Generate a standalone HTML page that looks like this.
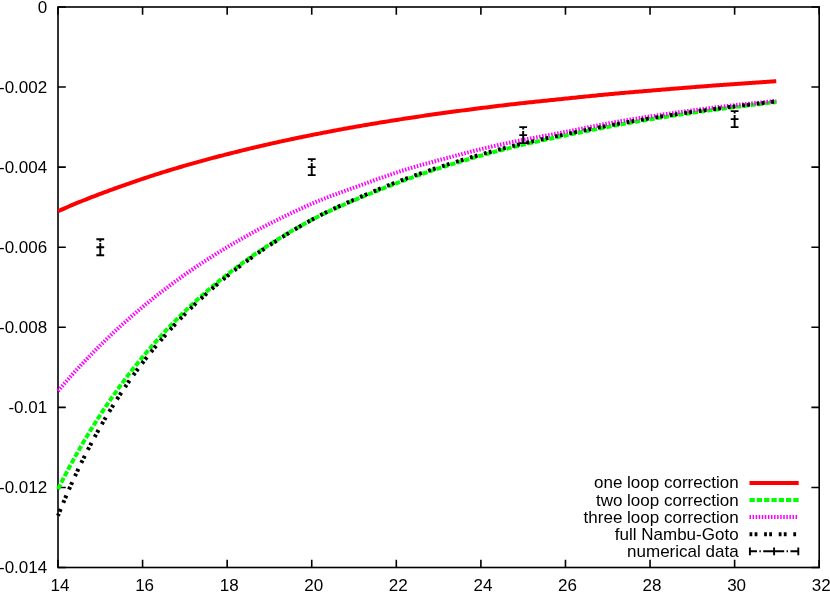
<!DOCTYPE html>
<html><head><meta charset="utf-8"><title>plot</title>
<style>
html,body{margin:0;padding:0;background:#fff;}
body{width:830px;height:592px;overflow:hidden;}
svg{display:block;will-change:transform;}
text{font-family:"Liberation Sans",sans-serif;font-size:17px;fill:#000;}
</style></head><body>
<svg width="830" height="592" viewBox="0 0 830 592">
<rect width="830" height="592" fill="#fff"/>

<g stroke="#000" stroke-width="1.6" fill="none" stroke-linecap="butt">
<rect x="58.0" y="7.0" width="761.2" height="560.5"/>
<path d="M58.00,7.00 h7.8 M819.20,7.00 h-7.8"/>
<path d="M58.00,87.07 h7.8 M819.20,87.07 h-7.8"/>
<path d="M58.00,167.14 h7.8 M819.20,167.14 h-7.8"/>
<path d="M58.00,247.21 h7.8 M819.20,247.21 h-7.8"/>
<path d="M58.00,327.29 h7.8 M819.20,327.29 h-7.8"/>
<path d="M58.00,407.36 h7.8 M819.20,407.36 h-7.8"/>
<path d="M58.00,487.43 h7.8 M819.20,487.43 h-7.8"/>
<path d="M58.00,567.50 h7.8 M819.20,567.50 h-7.8"/>
<path d="M58.00,567.50 v-7.8 M58.00,7.00 v7.8"/>
<path d="M142.58,567.50 v-7.8 M142.58,7.00 v7.8"/>
<path d="M227.16,567.50 v-7.8 M227.16,7.00 v7.8"/>
<path d="M311.73,567.50 v-7.8 M311.73,7.00 v7.8"/>
<path d="M396.31,567.50 v-7.8 M396.31,7.00 v7.8"/>
<path d="M480.89,567.50 v-7.8 M480.89,7.00 v7.8"/>
<path d="M565.47,567.50 v-7.8 M565.47,7.00 v7.8"/>
<path d="M650.04,567.50 v-7.8 M650.04,7.00 v7.8"/>
<path d="M734.62,567.50 v-7.8 M734.62,7.00 v7.8"/>
<path d="M819.20,567.50 v-7.8 M819.20,7.00 v7.8"/>
</g>
<g text-anchor="end">
<text x="47.2" y="12.5">0</text>
<text x="47.2" y="92.6">-0.002</text>
<text x="47.2" y="172.6">-0.004</text>
<text x="47.2" y="252.7">-0.006</text>
<text x="47.2" y="332.8">-0.008</text>
<text x="47.2" y="412.9">-0.01</text>
<text x="47.2" y="492.9">-0.012</text>
<text x="47.2" y="573.0">-0.014</text>
</g><g text-anchor="middle">
<text x="60.0" y="590.8">14</text>
<text x="144.6" y="590.8">16</text>
<text x="229.2" y="590.8">18</text>
<text x="313.7" y="590.8">20</text>
<text x="398.3" y="590.8">22</text>
<text x="482.9" y="590.8">24</text>
<text x="567.5" y="590.8">26</text>
<text x="652.0" y="590.8">28</text>
<text x="736.6" y="590.8">30</text>
<text x="821.2" y="590.8">32</text>
</g>
<g fill="none" stroke-width="4" stroke-linecap="butt" stroke-linejoin="round">
<path stroke="#ff0000" d="M58.00,211.30 L59.80,210.48 L61.60,209.66 L63.40,208.85 L65.20,208.06 L67.00,207.27 L68.80,206.49 L70.60,205.71 L72.40,204.95 L74.20,204.19 L76.00,203.44 L77.80,202.70 L79.60,201.96 L81.40,201.23 L83.20,200.51 L85.00,199.79 L86.80,199.08 L88.60,198.37 L90.40,197.67 L92.20,196.97 L94.00,196.28 L95.80,195.59 L97.60,194.90 L99.40,194.22 L101.20,193.55 L103.00,192.87 L104.81,192.20 L106.61,191.54 L108.41,190.87 L110.21,190.21 L112.01,189.55 L113.81,188.90 L115.61,188.25 L117.41,187.60 L119.21,186.96 L121.01,186.31 L122.81,185.67 L124.61,185.04 L126.41,184.40 L128.21,183.77 L130.01,183.15 L131.81,182.52 L133.61,181.90 L135.41,181.28 L137.21,180.67 L139.01,180.06 L140.81,179.45 L142.61,178.84 L144.41,178.24 L146.21,177.64 L148.01,177.05 L149.81,176.46 L151.61,175.88 L153.41,175.30 L155.21,174.72 L157.01,174.14 L158.81,173.57 L160.61,173.01 L162.41,172.44 L164.21,171.89 L166.01,171.33 L167.81,170.78 L169.61,170.23 L171.41,169.68 L173.21,169.14 L175.01,168.60 L176.81,168.06 L178.61,167.52 L180.41,166.99 L182.21,166.46 L184.01,165.94 L185.81,165.41 L187.61,164.89 L189.41,164.38 L191.21,163.86 L193.01,163.35 L194.81,162.84 L196.61,162.34 L198.42,161.84 L200.22,161.34 L202.02,160.85 L203.82,160.35 L205.62,159.86 L207.42,159.38 L209.22,158.90 L211.02,158.42 L212.82,157.94 L214.62,157.46 L216.42,156.99 L218.22,156.52 L220.02,156.05 L221.82,155.59 L223.62,155.12 L225.42,154.66 L227.22,154.20 L229.02,153.75 L230.82,153.29 L232.62,152.84 L234.42,152.39 L236.22,151.94 L238.02,151.49 L239.82,151.05 L241.62,150.61 L243.42,150.16 L245.22,149.73 L247.02,149.29 L248.82,148.85 L250.62,148.42 L252.42,147.99 L254.22,147.56 L256.02,147.13 L257.82,146.71 L259.62,146.29 L261.42,145.87 L263.22,145.45 L265.02,145.04 L266.82,144.62 L268.62,144.21 L270.42,143.80 L272.22,143.40 L274.02,142.99 L275.82,142.59 L277.62,142.19 L279.42,141.79 L281.22,141.40 L283.02,141.00 L284.82,140.61 L286.62,140.22 L288.42,139.84 L290.22,139.45 L292.03,139.07 L293.83,138.69 L295.63,138.31 L297.43,137.94 L299.23,137.57 L301.03,137.19 L302.83,136.83 L304.63,136.46 L306.43,136.09 L308.23,135.73 L310.03,135.37 L311.83,135.01 L313.63,134.65 L315.43,134.30 L317.23,133.94 L319.03,133.59 L320.83,133.24 L322.63,132.89 L324.43,132.54 L326.23,132.20 L328.03,131.85 L329.83,131.51 L331.63,131.17 L333.43,130.83 L335.23,130.49 L337.03,130.15 L338.83,129.82 L340.63,129.48 L342.43,129.15 L344.23,128.82 L346.03,128.49 L347.83,128.17 L349.63,127.84 L351.43,127.52 L353.23,127.20 L355.03,126.87 L356.83,126.56 L358.63,126.24 L360.43,125.92 L362.23,125.61 L364.03,125.30 L365.83,124.99 L367.63,124.68 L369.43,124.37 L371.23,124.07 L373.03,123.77 L374.83,123.46 L376.63,123.16 L378.43,122.86 L380.23,122.57 L382.03,122.27 L383.83,121.98 L385.64,121.68 L387.44,121.39 L389.24,121.10 L391.04,120.81 L392.84,120.53 L394.64,120.24 L396.44,119.96 L398.24,119.68 L400.04,119.39 L401.84,119.11 L403.64,118.84 L405.44,118.56 L407.24,118.28 L409.04,118.01 L410.84,117.74 L412.64,117.46 L414.44,117.19 L416.24,116.93 L418.04,116.66 L419.84,116.39 L421.64,116.13 L423.44,115.86 L425.24,115.60 L427.04,115.34 L428.84,115.08 L430.64,114.82 L432.44,114.56 L434.24,114.31 L436.04,114.05 L437.84,113.80 L439.64,113.55 L441.44,113.30 L443.24,113.05 L445.04,112.80 L446.84,112.56 L448.64,112.31 L450.44,112.07 L452.24,111.82 L454.04,111.58 L455.84,111.34 L457.64,111.10 L459.44,110.86 L461.24,110.62 L463.04,110.39 L464.84,110.15 L466.64,109.92 L468.44,109.68 L470.24,109.45 L472.04,109.22 L473.84,108.98 L475.64,108.75 L477.44,108.52 L479.25,108.30 L481.05,108.07 L482.85,107.84 L484.65,107.61 L486.45,107.39 L488.25,107.16 L490.05,106.94 L491.85,106.72 L493.65,106.50 L495.45,106.27 L497.25,106.06 L499.05,105.84 L500.85,105.62 L502.65,105.40 L504.45,105.19 L506.25,104.98 L508.05,104.77 L509.85,104.56 L511.65,104.35 L513.45,104.14 L515.25,103.93 L517.05,103.73 L518.85,103.53 L520.65,103.33 L522.45,103.13 L524.25,102.93 L526.05,102.74 L527.85,102.54 L529.65,102.35 L531.45,102.16 L533.25,101.97 L535.05,101.78 L536.85,101.59 L538.65,101.40 L540.45,101.21 L542.25,101.03 L544.05,100.84 L545.85,100.66 L547.65,100.47 L549.45,100.29 L551.25,100.10 L553.05,99.92 L554.85,99.73 L556.65,99.55 L558.45,99.36 L560.25,99.17 L562.05,98.99 L563.85,98.80 L565.65,98.61 L567.45,98.42 L569.25,98.24 L571.05,98.05 L572.86,97.86 L574.66,97.67 L576.46,97.49 L578.26,97.30 L580.06,97.11 L581.86,96.93 L583.66,96.74 L585.46,96.56 L587.26,96.37 L589.06,96.19 L590.86,96.01 L592.66,95.83 L594.46,95.65 L596.26,95.47 L598.06,95.29 L599.86,95.11 L601.66,94.94 L603.46,94.77 L605.26,94.59 L607.06,94.42 L608.86,94.26 L610.66,94.09 L612.46,93.92 L614.26,93.76 L616.06,93.59 L617.86,93.43 L619.66,93.27 L621.46,93.11 L623.26,92.95 L625.06,92.79 L626.86,92.63 L628.66,92.47 L630.46,92.32 L632.26,92.16 L634.06,92.01 L635.86,91.85 L637.66,91.70 L639.46,91.55 L641.26,91.39 L643.06,91.24 L644.86,91.09 L646.66,90.94 L648.46,90.79 L650.26,90.64 L652.06,90.49 L653.86,90.34 L655.66,90.19 L657.46,90.04 L659.26,89.89 L661.06,89.74 L662.86,89.59 L664.66,89.44 L666.47,89.30 L668.27,89.15 L670.07,89.00 L671.87,88.86 L673.67,88.71 L675.47,88.57 L677.27,88.42 L679.07,88.28 L680.87,88.13 L682.67,87.99 L684.47,87.84 L686.27,87.70 L688.07,87.55 L689.87,87.41 L691.67,87.27 L693.47,87.13 L695.27,86.98 L697.07,86.84 L698.87,86.70 L700.67,86.56 L702.47,86.42 L704.27,86.28 L706.07,86.15 L707.87,86.01 L709.67,85.87 L711.47,85.73 L713.27,85.60 L715.07,85.46 L716.87,85.33 L718.67,85.20 L720.47,85.07 L722.27,84.93 L724.07,84.80 L725.87,84.67 L727.67,84.55 L729.47,84.42 L731.27,84.29 L733.07,84.16 L734.87,84.04 L736.67,83.91 L738.47,83.79 L740.27,83.66 L742.07,83.54 L743.87,83.42 L745.67,83.29 L747.47,83.17 L749.27,83.05 L751.07,82.93 L752.87,82.81 L754.67,82.69 L756.47,82.56 L758.27,82.44 L760.08,82.32 L761.88,82.20 L763.68,82.08 L765.48,81.97 L767.28,81.85 L769.08,81.73 L770.88,81.61 L772.68,81.49 L774.48,81.37 L776.28,81.25"/>
<path stroke="#00ff00" stroke-dasharray="5.3 2" d="M58.00,489.10 L59.80,485.53 L61.60,482.01 L63.40,478.52 L65.20,475.07 L67.00,471.65 L68.80,468.28 L70.60,464.94 L72.40,461.64 L74.20,458.38 L76.00,455.15 L77.80,451.95 L79.60,448.79 L81.40,445.67 L83.20,442.58 L85.00,439.52 L86.80,436.50 L88.60,433.51 L90.40,430.55 L92.20,427.62 L94.00,424.72 L95.80,421.86 L97.60,419.03 L99.40,416.22 L101.20,413.45 L103.00,410.70 L104.81,407.98 L106.61,405.30 L108.41,402.64 L110.21,400.01 L112.01,397.40 L113.81,394.83 L115.61,392.28 L117.41,389.75 L119.21,387.26 L121.01,384.79 L122.81,382.34 L124.61,379.92 L126.41,377.53 L128.21,375.16 L130.01,372.82 L131.81,370.50 L133.61,368.20 L135.41,365.93 L137.21,363.67 L139.01,361.45 L140.81,359.24 L142.61,357.05 L144.41,354.89 L146.21,352.75 L148.01,350.62 L149.81,348.52 L151.61,346.44 L153.41,344.37 L155.21,342.33 L157.01,340.30 L158.81,338.30 L160.61,336.31 L162.41,334.34 L164.21,332.39 L166.01,330.46 L167.81,328.55 L169.61,326.66 L171.41,324.78 L173.21,322.93 L175.01,321.09 L176.81,319.27 L178.61,317.46 L180.41,315.68 L182.21,313.91 L184.01,312.16 L185.81,310.42 L187.61,308.70 L189.41,307.00 L191.21,305.31 L193.01,303.64 L194.81,301.99 L196.61,300.35 L198.42,298.72 L200.22,297.11 L202.02,295.51 L203.82,293.93 L205.62,292.36 L207.42,290.80 L209.22,289.26 L211.02,287.73 L212.82,286.22 L214.62,284.72 L216.42,283.23 L218.22,281.75 L220.02,280.29 L221.82,278.84 L223.62,277.40 L225.42,275.98 L227.22,274.56 L229.02,273.16 L230.82,271.77 L232.62,270.39 L234.42,269.02 L236.22,267.67 L238.02,266.32 L239.82,264.99 L241.62,263.67 L243.42,262.36 L245.22,261.06 L247.02,259.77 L248.82,258.49 L250.62,257.23 L252.42,255.97 L254.22,254.73 L256.02,253.49 L257.82,252.27 L259.62,251.05 L261.42,249.85 L263.22,248.66 L265.02,247.48 L266.82,246.30 L268.62,245.14 L270.42,243.99 L272.22,242.84 L274.02,241.71 L275.82,240.58 L277.62,239.46 L279.42,238.35 L281.22,237.25 L283.02,236.16 L284.82,235.08 L286.62,234.00 L288.42,232.93 L290.22,231.87 L292.03,230.81 L293.83,229.77 L295.63,228.73 L297.43,227.70 L299.23,226.67 L301.03,225.66 L302.83,224.65 L304.63,223.66 L306.43,222.67 L308.23,221.70 L310.03,220.74 L311.83,219.78 L313.63,218.84 L315.43,217.91 L317.23,216.99 L319.03,216.08 L320.83,215.19 L322.63,214.31 L324.43,213.44 L326.23,212.58 L328.03,211.73 L329.83,210.90 L331.63,210.07 L333.43,209.25 L335.23,208.44 L337.03,207.64 L338.83,206.85 L340.63,206.06 L342.43,205.28 L344.23,204.51 L346.03,203.74 L347.83,202.98 L349.63,202.22 L351.43,201.46 L353.23,200.71 L355.03,199.96 L356.83,199.21 L358.63,198.47 L360.43,197.72 L362.23,196.98 L364.03,196.23 L365.83,195.49 L367.63,194.75 L369.43,194.01 L371.23,193.27 L373.03,192.54 L374.83,191.81 L376.63,191.07 L378.43,190.35 L380.23,189.62 L382.03,188.90 L383.83,188.18 L385.64,187.46 L387.44,186.75 L389.24,186.04 L391.04,185.34 L392.84,184.64 L394.64,183.94 L396.44,183.25 L398.24,182.57 L400.04,181.89 L401.84,181.21 L403.64,180.54 L405.44,179.88 L407.24,179.22 L409.04,178.56 L410.84,177.91 L412.64,177.27 L414.44,176.63 L416.24,175.99 L418.04,175.36 L419.84,174.74 L421.64,174.11 L423.44,173.50 L425.24,172.88 L427.04,172.27 L428.84,171.67 L430.64,171.07 L432.44,170.47 L434.24,169.88 L436.04,169.29 L437.84,168.70 L439.64,168.12 L441.44,167.54 L443.24,166.96 L445.04,166.39 L446.84,165.82 L448.64,165.25 L450.44,164.69 L452.24,164.13 L454.04,163.57 L455.84,163.02 L457.64,162.47 L459.44,161.92 L461.24,161.38 L463.04,160.84 L464.84,160.30 L466.64,159.77 L468.44,159.24 L470.24,158.71 L472.04,158.18 L473.84,157.66 L475.64,157.14 L477.44,156.63 L479.25,156.11 L481.05,155.60 L482.85,155.10 L484.65,154.59 L486.45,154.09 L488.25,153.59 L490.05,153.10 L491.85,152.61 L493.65,152.12 L495.45,151.64 L497.25,151.15 L499.05,150.68 L500.85,150.20 L502.65,149.73 L504.45,149.27 L506.25,148.80 L508.05,148.34 L509.85,147.89 L511.65,147.44 L513.45,146.99 L515.25,146.55 L517.05,146.11 L518.85,145.68 L520.65,145.25 L522.45,144.82 L524.25,144.40 L526.05,143.98 L527.85,143.57 L529.65,143.16 L531.45,142.75 L533.25,142.35 L535.05,141.94 L536.85,141.55 L538.65,141.15 L540.45,140.76 L542.25,140.37 L544.05,139.98 L545.85,139.59 L547.65,139.21 L549.45,138.82 L551.25,138.44 L553.05,138.06 L554.85,137.68 L556.65,137.30 L558.45,136.92 L560.25,136.55 L562.05,136.17 L563.85,135.79 L565.65,135.42 L567.45,135.04 L569.25,134.66 L571.05,134.29 L572.86,133.91 L574.66,133.54 L576.46,133.17 L578.26,132.79 L580.06,132.42 L581.86,132.05 L583.66,131.69 L585.46,131.32 L587.26,130.95 L589.06,130.59 L590.86,130.22 L592.66,129.86 L594.46,129.50 L596.26,129.14 L598.06,128.78 L599.86,128.43 L601.66,128.07 L603.46,127.72 L605.26,127.37 L607.06,127.02 L608.86,126.68 L610.66,126.33 L612.46,125.99 L614.26,125.65 L616.06,125.31 L617.86,124.97 L619.66,124.64 L621.46,124.31 L623.26,123.98 L625.06,123.65 L626.86,123.32 L628.66,123.00 L630.46,122.67 L632.26,122.35 L634.06,122.03 L635.86,121.72 L637.66,121.40 L639.46,121.09 L641.26,120.78 L643.06,120.48 L644.86,120.17 L646.66,119.87 L648.46,119.57 L650.26,119.27 L652.06,118.97 L653.86,118.68 L655.66,118.38 L657.46,118.09 L659.26,117.80 L661.06,117.51 L662.86,117.23 L664.66,116.95 L666.47,116.66 L668.27,116.38 L670.07,116.11 L671.87,115.83 L673.67,115.55 L675.47,115.28 L677.27,115.01 L679.07,114.74 L680.87,114.47 L682.67,114.20 L684.47,113.94 L686.27,113.68 L688.07,113.41 L689.87,113.15 L691.67,112.89 L693.47,112.63 L695.27,112.38 L697.07,112.12 L698.87,111.87 L700.67,111.62 L702.47,111.37 L704.27,111.12 L706.07,110.87 L707.87,110.62 L709.67,110.38 L711.47,110.14 L713.27,109.89 L715.07,109.65 L716.87,109.41 L718.67,109.18 L720.47,108.94 L722.27,108.70 L724.07,108.47 L725.87,108.23 L727.67,108.00 L729.47,107.77 L731.27,107.54 L733.07,107.31 L734.87,107.09 L736.67,106.86 L738.47,106.63 L740.27,106.41 L742.07,106.18 L743.87,105.96 L745.67,105.73 L747.47,105.51 L749.27,105.29 L751.07,105.07 L752.87,104.85 L754.67,104.63 L756.47,104.41 L758.27,104.18 L760.08,103.97 L761.88,103.75 L763.68,103.53 L765.48,103.31 L767.28,103.09 L769.08,102.87 L770.88,102.65 L772.68,102.43 L774.48,102.21 L776.28,101.99"/>
<path stroke="#ff00ff" stroke-dasharray="1.5 1.57" d="M58.00,391.00 L59.80,388.88 L61.60,386.77 L63.40,384.69 L65.20,382.62 L67.00,380.56 L68.80,378.52 L70.60,376.50 L72.40,374.50 L74.20,372.51 L76.00,370.53 L77.80,368.57 L79.60,366.63 L81.40,364.70 L83.20,362.78 L85.00,360.88 L86.80,359.00 L88.60,357.13 L90.40,355.27 L92.20,353.43 L94.00,351.60 L95.80,349.78 L97.60,347.98 L99.40,346.19 L101.20,344.41 L103.00,342.65 L104.81,340.90 L106.61,339.16 L108.41,337.43 L110.21,335.72 L112.01,334.01 L113.81,332.33 L115.61,330.65 L117.41,328.98 L119.21,327.33 L121.01,325.69 L122.81,324.07 L124.61,322.45 L126.41,320.85 L128.21,319.26 L130.01,317.68 L131.81,316.11 L133.61,314.56 L135.41,313.01 L137.21,311.48 L139.01,309.96 L140.81,308.45 L142.61,306.95 L144.41,305.46 L146.21,303.98 L148.01,302.51 L149.81,301.05 L151.61,299.61 L153.41,298.17 L155.21,296.74 L157.01,295.32 L158.81,293.92 L160.61,292.52 L162.41,291.13 L164.21,289.75 L166.01,288.39 L167.81,287.03 L169.61,285.68 L171.41,284.34 L173.21,283.01 L175.01,281.69 L176.81,280.38 L178.61,279.08 L180.41,277.79 L182.21,276.50 L184.01,275.23 L185.81,273.96 L187.61,272.71 L189.41,271.46 L191.21,270.22 L193.01,268.99 L194.81,267.77 L196.61,266.56 L198.42,265.35 L200.22,264.16 L202.02,262.97 L203.82,261.79 L205.62,260.62 L207.42,259.45 L209.22,258.30 L211.02,257.15 L212.82,256.01 L214.62,254.88 L216.42,253.75 L218.22,252.63 L220.02,251.52 L221.82,250.42 L223.62,249.33 L225.42,248.24 L227.22,247.16 L229.02,246.08 L230.82,245.02 L232.62,243.96 L234.42,242.90 L236.22,241.86 L238.02,240.82 L239.82,239.79 L241.62,238.76 L243.42,237.75 L245.22,236.74 L247.02,235.73 L248.82,234.73 L250.62,233.75 L252.42,232.76 L254.22,231.79 L256.02,230.82 L257.82,229.86 L259.62,228.90 L261.42,227.95 L263.22,227.01 L265.02,226.08 L266.82,225.15 L268.62,224.22 L270.42,223.31 L272.22,222.40 L274.02,221.49 L275.82,220.60 L277.62,219.70 L279.42,218.81 L281.22,217.93 L283.02,217.06 L284.82,216.18 L286.62,215.31 L288.42,214.45 L290.22,213.59 L292.03,212.74 L293.83,211.89 L295.63,211.04 L297.43,210.21 L299.23,209.37 L301.03,208.55 L302.83,207.72 L304.63,206.91 L306.43,206.11 L308.23,205.31 L310.03,204.52 L311.83,203.73 L313.63,202.96 L315.43,202.20 L317.23,201.44 L319.03,200.70 L320.83,199.96 L322.63,199.24 L324.43,198.52 L326.23,197.82 L328.03,197.12 L329.83,196.43 L331.63,195.75 L333.43,195.08 L335.23,194.41 L337.03,193.74 L338.83,193.08 L340.63,192.43 L342.43,191.78 L344.23,191.13 L346.03,190.49 L347.83,189.84 L349.63,189.20 L351.43,188.56 L353.23,187.92 L355.03,187.28 L356.83,186.63 L358.63,185.99 L360.43,185.34 L362.23,184.70 L364.03,184.05 L365.83,183.39 L367.63,182.74 L369.43,182.09 L371.23,181.43 L373.03,180.78 L374.83,180.13 L376.63,179.48 L378.43,178.83 L380.23,178.18 L382.03,177.54 L383.83,176.90 L385.64,176.27 L387.44,175.63 L389.24,175.01 L391.04,174.39 L392.84,173.77 L394.64,173.17 L396.44,172.57 L398.24,171.97 L400.04,171.39 L401.84,170.81 L403.64,170.24 L405.44,169.68 L407.24,169.13 L409.04,168.58 L410.84,168.04 L412.64,167.51 L414.44,166.98 L416.24,166.46 L418.04,165.95 L419.84,165.43 L421.64,164.93 L423.44,164.42 L425.24,163.92 L427.04,163.42 L428.84,162.93 L430.64,162.44 L432.44,161.95 L434.24,161.46 L436.04,160.97 L437.84,160.48 L439.64,160.00 L441.44,159.51 L443.24,159.02 L445.04,158.54 L446.84,158.05 L448.64,157.57 L450.44,157.08 L452.24,156.60 L454.04,156.12 L455.84,155.64 L457.64,155.16 L459.44,154.68 L461.24,154.21 L463.04,153.73 L464.84,153.26 L466.64,152.79 L468.44,152.32 L470.24,151.86 L472.04,151.40 L473.84,150.94 L475.64,150.49 L477.44,150.03 L479.25,149.59 L481.05,149.14 L482.85,148.70 L484.65,148.27 L486.45,147.83 L488.25,147.41 L490.05,146.98 L491.85,146.56 L493.65,146.14 L495.45,145.73 L497.25,145.32 L499.05,144.92 L500.85,144.52 L502.65,144.12 L504.45,143.73 L506.25,143.34 L508.05,142.95 L509.85,142.57 L511.65,142.19 L513.45,141.82 L515.25,141.45 L517.05,141.09 L518.85,140.73 L520.65,140.37 L522.45,140.02 L524.25,139.67 L526.05,139.33 L527.85,138.98 L529.65,138.64 L531.45,138.31 L533.25,137.97 L535.05,137.64 L536.85,137.31 L538.65,136.97 L540.45,136.64 L542.25,136.31 L544.05,135.98 L545.85,135.65 L547.65,135.32 L549.45,134.99 L551.25,134.65 L553.05,134.32 L554.85,133.98 L556.65,133.64 L558.45,133.30 L560.25,132.95 L562.05,132.60 L563.85,132.25 L565.65,131.89 L567.45,131.54 L569.25,131.18 L571.05,130.82 L572.86,130.45 L574.66,130.09 L576.46,129.72 L578.26,129.36 L580.06,128.99 L581.86,128.62 L583.66,128.26 L585.46,127.89 L587.26,127.53 L589.06,127.17 L590.86,126.80 L592.66,126.44 L594.46,126.09 L596.26,125.73 L598.06,125.38 L599.86,125.03 L601.66,124.68 L603.46,124.34 L605.26,124.00 L607.06,123.66 L608.86,123.33 L610.66,123.00 L612.46,122.67 L614.26,122.34 L616.06,122.02 L617.86,121.70 L619.66,121.39 L621.46,121.07 L623.26,120.76 L625.06,120.46 L626.86,120.15 L628.66,119.85 L630.46,119.55 L632.26,119.25 L634.06,118.96 L635.86,118.66 L637.66,118.37 L639.46,118.09 L641.26,117.80 L643.06,117.52 L644.86,117.24 L646.66,116.96 L648.46,116.68 L650.26,116.40 L652.06,116.13 L653.86,115.86 L655.66,115.59 L657.46,115.32 L659.26,115.06 L661.06,114.79 L662.86,114.53 L664.66,114.27 L666.47,114.01 L668.27,113.75 L670.07,113.50 L671.87,113.24 L673.67,112.99 L675.47,112.73 L677.27,112.48 L679.07,112.23 L680.87,111.98 L682.67,111.73 L684.47,111.48 L686.27,111.24 L688.07,110.99 L689.87,110.75 L691.67,110.50 L693.47,110.26 L695.27,110.02 L697.07,109.78 L698.87,109.55 L700.67,109.31 L702.47,109.08 L704.27,108.84 L706.07,108.61 L707.87,108.39 L709.67,108.16 L711.47,107.93 L713.27,107.71 L715.07,107.49 L716.87,107.27 L718.67,107.06 L720.47,106.84 L722.27,106.63 L724.07,106.42 L725.87,106.22 L727.67,106.01 L729.47,105.81 L731.27,105.61 L733.07,105.41 L734.87,105.21 L736.67,105.02 L738.47,104.82 L740.27,104.63 L742.07,104.43 L743.87,104.24 L745.67,104.05 L747.47,103.86 L749.27,103.68 L751.07,103.49 L752.87,103.30 L754.67,103.11 L756.47,102.93 L758.27,102.74 L760.08,102.56 L761.88,102.37 L763.68,102.18 L765.48,102.00 L767.28,101.81 L769.08,101.63 L770.88,101.44 L772.68,101.25 L774.48,101.06 L776.28,100.88"/>
<path stroke="#000" stroke-dasharray="2.8 2.3 2.8 6.7" stroke-dashoffset="0.7" d="M58.00,515.72 L59.80,511.24 L61.60,506.84 L63.40,502.50 L65.20,498.23 L67.00,494.04 L68.80,489.91 L70.60,485.84 L72.40,481.83 L74.20,477.89 L76.00,474.01 L77.80,470.19 L79.60,466.42 L81.40,462.72 L83.20,459.06 L85.00,455.46 L86.80,451.91 L88.60,448.42 L90.40,444.97 L92.20,441.58 L94.00,438.23 L95.80,434.93 L97.60,431.67 L99.40,428.46 L101.20,425.29 L103.00,422.17 L104.81,419.08 L106.61,416.04 L108.41,413.04 L110.21,410.08 L112.01,407.16 L113.81,404.28 L115.61,401.43 L117.41,398.62 L119.21,395.85 L121.01,393.11 L122.81,390.41 L124.61,387.74 L126.41,385.10 L128.21,382.50 L130.01,379.93 L131.81,377.39 L133.61,374.88 L135.41,372.41 L137.21,369.96 L139.01,367.54 L140.81,365.15 L142.61,362.78 L144.41,360.45 L146.21,358.14 L148.01,355.85 L149.81,353.59 L151.61,351.36 L153.41,349.15 L155.21,346.96 L157.01,344.80 L158.81,342.66 L160.61,340.55 L162.41,338.46 L164.21,336.39 L166.01,334.34 L167.81,332.31 L169.61,330.31 L171.41,328.33 L173.21,326.37 L175.01,324.43 L176.81,322.52 L178.61,320.62 L180.41,318.74 L182.21,316.89 L184.01,315.05 L185.81,313.23 L187.61,311.43 L189.41,309.66 L191.21,307.89 L193.01,306.15 L194.81,304.42 L196.61,302.71 L198.42,301.02 L200.22,299.35 L202.02,297.69 L203.82,296.04 L205.62,294.42 L207.42,292.81 L209.22,291.21 L211.02,289.63 L212.82,288.06 L214.62,286.51 L216.42,284.97 L218.22,283.45 L220.02,281.94 L221.82,280.44 L223.62,278.96 L225.42,277.49 L227.22,276.04 L229.02,274.60 L230.82,273.17 L232.62,271.75 L234.42,270.35 L236.22,268.96 L238.02,267.58 L239.82,266.21 L241.62,264.86 L243.42,263.52 L245.22,262.19 L247.02,260.87 L248.82,259.56 L250.62,258.27 L252.42,256.98 L254.22,255.71 L256.02,254.45 L257.82,253.19 L259.62,251.95 L261.42,250.72 L263.22,249.49 L265.02,248.28 L266.82,247.08 L268.62,245.88 L270.42,244.70 L272.22,243.52 L274.02,242.36 L275.82,241.20 L277.62,240.05 L279.42,238.91 L281.22,237.77 L283.02,236.65 L284.82,235.53 L286.62,234.42 L288.42,233.32 L290.22,232.23 L292.03,231.14 L293.83,230.06 L295.63,228.99 L297.43,227.92 L299.23,226.87 L301.03,225.82 L302.83,224.78 L304.63,223.76 L306.43,222.74 L308.23,221.73 L310.03,220.73 L311.83,219.75 L313.63,218.77 L315.43,217.81 L317.23,216.86 L319.03,215.92 L320.83,215.00 L322.63,214.09 L324.43,213.18 L326.23,212.30 L328.03,211.42 L329.83,210.55 L331.63,209.69 L333.43,208.85 L335.23,208.01 L337.03,207.18 L338.83,206.36 L340.63,205.54 L342.43,204.74 L344.23,203.94 L346.03,203.14 L347.83,202.35 L349.63,201.57 L351.43,200.79 L353.23,200.01 L355.03,199.24 L356.83,198.46 L358.63,197.70 L360.43,196.93 L362.23,196.16 L364.03,195.40 L365.83,194.64 L367.63,193.88 L369.43,193.12 L371.23,192.37 L373.03,191.62 L374.83,190.87 L376.63,190.12 L378.43,189.38 L380.23,188.64 L382.03,187.90 L383.83,187.17 L385.64,186.45 L387.44,185.73 L389.24,185.01 L391.04,184.30 L392.84,183.59 L394.64,182.89 L396.44,182.20 L398.24,181.51 L400.04,180.83 L401.84,180.15 L403.64,179.48 L405.44,178.81 L407.24,178.15 L409.04,177.49 L410.84,176.84 L412.64,176.19 L414.44,175.55 L416.24,174.91 L418.04,174.27 L419.84,173.65 L421.64,173.02 L423.44,172.40 L425.24,171.79 L427.04,171.17 L428.84,170.57 L430.64,169.96 L432.44,169.36 L434.24,168.77 L436.04,168.18 L437.84,167.59 L439.64,167.00 L441.44,166.42 L443.24,165.84 L445.04,165.27 L446.84,164.70 L448.64,164.13 L450.44,163.57 L452.24,163.00 L454.04,162.45 L455.84,161.89 L457.64,161.34 L459.44,160.79 L461.24,160.25 L463.04,159.71 L464.84,159.17 L466.64,158.63 L468.44,158.10 L470.24,157.57 L472.04,157.04 L473.84,156.52 L475.64,156.00 L477.44,155.48 L479.25,154.97 L481.05,154.46 L482.85,153.95 L484.65,153.44 L486.45,152.94 L488.25,152.44 L490.05,151.95 L491.85,151.46 L493.65,150.97 L495.45,150.48 L497.25,150.00 L499.05,149.52 L500.85,149.05 L502.65,148.57 L504.45,148.11 L506.25,147.64 L508.05,147.18 L509.85,146.73 L511.65,146.28 L513.45,145.83 L515.25,145.39 L517.05,144.95 L518.85,144.51 L520.65,144.08 L522.45,143.65 L524.25,143.23 L526.05,142.81 L527.85,142.40 L529.65,141.99 L531.45,141.58 L533.25,141.18 L535.05,140.77 L536.85,140.38 L538.65,139.98 L540.45,139.59 L542.25,139.20 L544.05,138.81 L545.85,138.42 L547.65,138.03 L549.45,137.65 L551.25,137.27 L553.05,136.89 L554.85,136.51 L556.65,136.13 L558.45,135.75 L560.25,135.37 L562.05,134.99 L563.85,134.61 L565.65,134.24 L567.45,133.86 L569.25,133.48 L571.05,133.11 L572.86,132.74 L574.66,132.36 L576.46,131.99 L578.26,131.62 L580.06,131.25 L581.86,130.88 L583.66,130.52 L585.46,130.15 L587.26,129.79 L589.06,129.42 L590.86,129.06 L592.66,128.70 L594.46,128.35 L596.26,127.99 L598.06,127.64 L599.86,127.29 L601.66,126.94 L603.46,126.59 L605.26,126.24 L607.06,125.90 L608.86,125.56 L610.66,125.22 L612.46,124.88 L614.26,124.54 L616.06,124.21 L617.86,123.88 L619.66,123.55 L621.46,123.22 L623.26,122.90 L625.06,122.57 L626.86,122.25 L628.66,121.94 L630.46,121.62 L632.26,121.31 L634.06,120.99 L635.86,120.68 L637.66,120.38 L639.46,120.07 L641.26,119.77 L643.06,119.47 L644.86,119.17 L646.66,118.87 L648.46,118.58 L650.26,118.29 L652.06,118.00 L653.86,117.71 L655.66,117.43 L657.46,117.14 L659.26,116.86 L661.06,116.58 L662.86,116.30 L664.66,116.03 L666.47,115.75 L668.27,115.48 L670.07,115.21 L671.87,114.94 L673.67,114.67 L675.47,114.41 L677.27,114.14 L679.07,113.88 L680.87,113.62 L682.67,113.36 L684.47,113.10 L686.27,112.85 L688.07,112.59 L689.87,112.34 L691.67,112.08 L693.47,111.83 L695.27,111.59 L697.07,111.34 L698.87,111.09 L700.67,110.85 L702.47,110.60 L704.27,110.36 L706.07,110.12 L707.87,109.88 L709.67,109.64 L711.47,109.40 L713.27,109.17 L715.07,108.93 L716.87,108.70 L718.67,108.47 L720.47,108.24 L722.27,108.01 L724.07,107.78 L725.87,107.55 L727.67,107.32 L729.47,107.10 L731.27,106.87 L733.07,106.65 L734.87,106.43 L736.67,106.21 L738.47,105.98 L740.27,105.76 L742.07,105.54 L743.87,105.32 L745.67,105.10 L747.47,104.88 L749.27,104.67 L751.07,104.45 L752.87,104.23 L754.67,104.01 L756.47,103.79 L758.27,103.58 L760.08,103.36 L761.88,103.14 L763.68,102.92 L765.48,102.70 L767.28,102.49 L769.08,102.27 L770.88,102.05 L772.68,101.83 L774.48,101.61 L776.28,101.39"/>
</g>
<g stroke="#000" stroke-width="1.9" fill="none">
<path d="M100.29,239.21 V241.71 M100.29,243.01 V255.21"/>
<path d="M96.39,239.21 h7.8 M96.39,255.21 h7.8 M96.39,247.21 h7.8"/>
<path d="M311.73,159.14 V161.64 M311.73,162.94 V175.14"/>
<path d="M307.83,159.14 h7.8 M307.83,175.14 h7.8 M307.83,167.14 h7.8"/>
<path d="M523.18,127.11 V129.61 M523.18,130.91 V143.11"/>
<path d="M519.28,127.11 h7.8 M519.28,143.11 h7.8 M519.28,135.11 h7.8"/>
<path d="M734.62,111.10 V113.60 M734.62,114.90 V127.10"/>
<path d="M730.72,111.10 h7.8 M730.72,127.10 h7.8 M730.72,119.10 h7.8"/>
</g>
<g text-anchor="end">
<text x="738.6" y="488.40">one loop correction</text>
<text x="738.6" y="505.55">two loop correction</text>
<text x="738.6" y="522.70">three loop correction</text>
<text x="738.6" y="539.85">full Nambu-Goto</text>
<text x="738.6" y="557.00">numerical data</text>
</g>
<g fill="none" stroke-width="4">
<path stroke="#ff0000" d="M749.5,483.0 H798.7"/>
<path stroke="#00ff00" stroke-dasharray="5.3 2" d="M749.5,500.0 H798.7"/>
<path stroke="#ff00ff" stroke-dasharray="1.5 1.57" d="M749.5,517.0 H798.1"/>
<path stroke="#000" stroke-dasharray="2.8 2.3 2.8 6.7" d="M749.5,534.2 H797.2"/>
</g>
<g stroke="#000" stroke-width="1.9" fill="none">
<path stroke-dasharray="7.5 2.4 1.4 2.4 21 2.4 1.4 2.4 20" d="M749.5,551.3 H798.7"/>
<path d="M749.9,547.4 v7.8 M798.3,547.4 v7.8 M774.1,547.4 v7.8"/>
</g>
</svg></body></html>
